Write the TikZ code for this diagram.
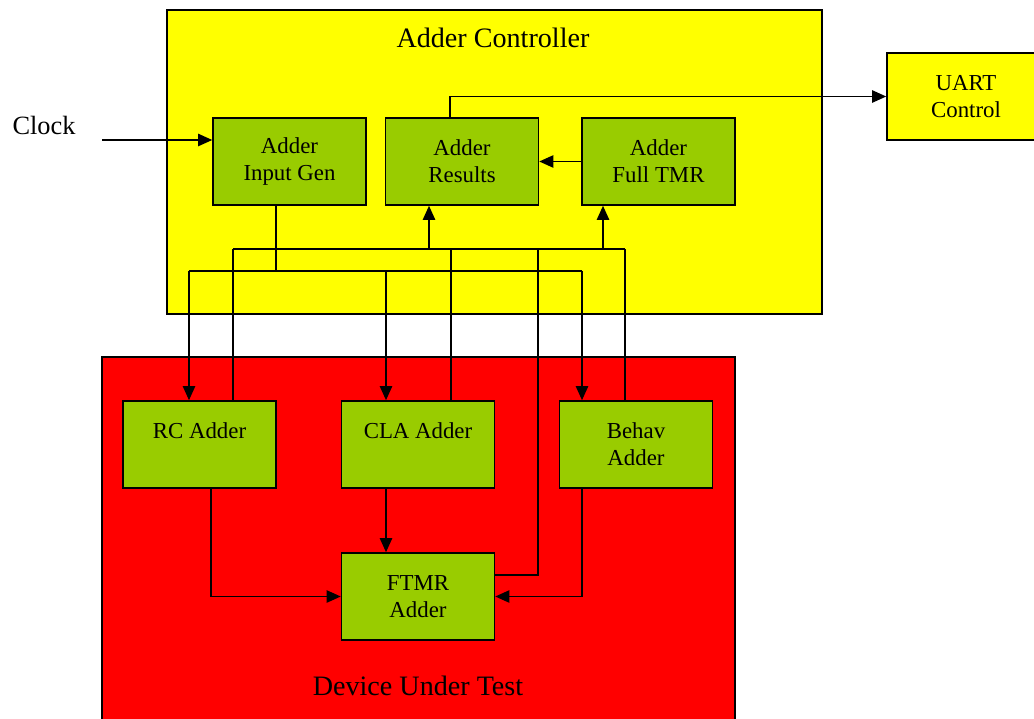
\documentclass[tikz,border=0pt]{standalone}
\usepackage{fontspec}
\setmainfont{Liberation Serif}
\usetikzlibrary{arrows.meta}

\begin{document}
\begin{tikzpicture}[x=0.02cm, y=-0.02cm]
                    \definecolor{leaf}{HTML}{99CC00}
                    \definecolor{lemon}{HTML}{FFFF00}
                    \definecolor{scarlet}{HTML}{FF0000}
                    \tikzstyle{block} = [draw=black, line width=0.9pt, fill=leaf, minimum width=3.06cm, minimum height=1.74cm, align=center, font=\fontsize{13}{15.4}\selectfont, inner sep=0pt]
                    \tikzstyle{wire} = [line width=0.85pt]
                    \tikzstyle{arr} = [wire, -{Triangle[length=8pt, width=7pt]}]
                    \useasboundingbox (0, 0) rectangle (1034, 719);
                    \draw[wire, fill=lemon] (167, 10) rectangle (822, 314);
                    \draw[wire, fill=scarlet] (102, 357) rectangle (735, 740);
                    \node[font=\fontsize{16}{19}\selectfont] (ctrl) at (493, 38) {Adder Controller};
                    \node[font=\fontsize{16}{19}\selectfont] (dut) at (418, 686) {Device Under Test};
                    \node[font=\fontsize{15}{18}\selectfont] (clock) at (44, 125) {Clock};
                    \node[block, fill=lemon, minimum width=3.16cm] (uart) at (966, 96.5) {UART\\Control};
                    \node[block] (gen) at (289.5, 161.5) {Adder\\Input Gen};
                    \node[block] (res) at (462, 161.5) {Adder\\Results};
                    \node[block] (tmr) at (658.5, 161.5) {Adder\\Full TMR};
                    \node[block] (rc) at (199.5, 444.5) {RC Adder\\\phantom{A}};
                    \node[block] (cla) at (418, 444.5) {CLA Adder\\\phantom{A}};
                    \node[block] (beh) at (636, 444.5) {Behav\\Adder};
                    \node[block] (ftmr) at (418, 596.5) {FTMR\\Adder};
                    \coordinate (clk) at (102, 140);
                    \draw[arr] (clk) -- (clk -| gen.west);
                    \draw[arr] ([xshift=-0.24cm]res.north) |- (uart.west);
                    \draw[arr] (tmr.west) -- (res.east);
                    \coordinate (g0) at (276, 271);
                    \coordinate (gl) at (189, 271);
                    \coordinate (gm) at (386, 271);
                    \coordinate (gr) at (582, 271);
                    \draw[wire] (g0 |- gen.south) -- (g0);
                    \draw[wire] (gl) -- (gr);
                    \draw[arr] (gl) -- (gl |- rc.north);
                    \draw[arr] (gm) -- (gm |- cla.north);
                    \draw[arr] (gr) -- (gr |- beh.north);
                    \coordinate (bl) at (233, 249);
                    \coordinate (br) at (625, 249);
                    \coordinate (bres) at (429, 249);
                    \coordinate (btmr) at (603, 249);
                    \coordinate (bcla) at (451, 249);
                    \coordinate (bft) at (538, 249);
                    \draw[wire] (bl) -- (br);
                    \draw[arr] (bres) -- (bres |- res.south);
                    \draw[arr] (btmr) -- (btmr |- tmr.south);
                    \draw[wire] (bl |- rc.north) -- (bl);
                    \draw[wire] (bcla |- cla.north) -- (bcla);
                    \draw[wire] (br |- beh.north) -- (br);
                    \draw[wire] ([yshift=0.43cm]ftmr.east) -| (bft);
                    \draw[arr] ([xshift=0.23cm]rc.south) |- (ftmr.west);
                    \draw[arr] ([xshift=-0.64cm]cla.south) -- ([xshift=-0.64cm]ftmr.north);
                    \draw[arr] ([xshift=-1.08cm]beh.south) |- (ftmr.east);
                \end{tikzpicture}
\end{document}
